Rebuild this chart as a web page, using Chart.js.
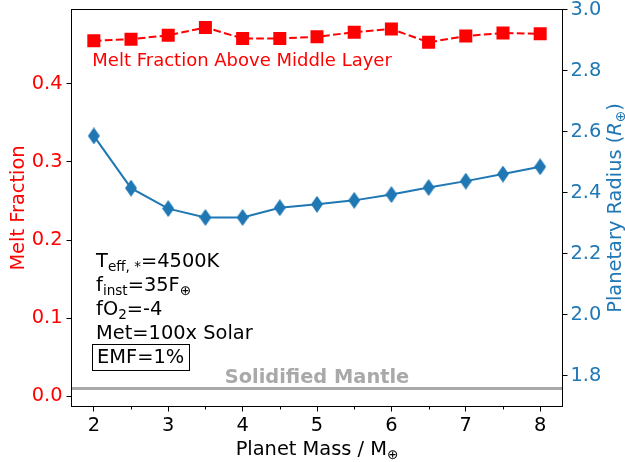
<!DOCTYPE html>
<html>
<head>
<meta charset="utf-8">
<script src="https://cdn.jsdelivr.net/npm/chart.js@4"></script>
<style>
  html, body { margin: 0; padding: 0; background: #fff; }
</style>
</head>
<body>
<canvas id="meltChart" width="625" height="462"></canvas>
<script>
// data
const masses = [2, 2.5, 3, 3.5, 4, 4.5, 5, 5.5, 6, 6.5, 7, 7.5, 8];
const meltFraction = [0.455, 0.457, 0.462, 0.472, 0.458, 0.458, 0.460, 0.466, 0.470, 0.453, 0.461, 0.465, 0.464];
const planetRadius = [2.586, 2.415, 2.348, 2.319, 2.319, 2.351, 2.362, 2.375, 2.394, 2.417, 2.438, 2.461, 2.485];
const massTicks = [2, 3, 4, 5, 6, 7, 8];
const massMinorTicks = [2.5, 3.5, 4.5, 5.5, 6.5, 7.5];
const meltTicks = [0.0, 0.1, 0.2, 0.3, 0.4];
const radiusTicks = [1.8, 2.0, 2.2, 2.4, 2.6, 2.8, 3.0];
const solidifiedLevel = 0.01;
const massRange = [1.7, 8.3];
const meltRange = [-0.013, 0.495];
const radiusRange = [1.7, 3.0];

const RED = '#ff0000';
const BLUE = '#1f77b4';
const GREY = '#a9a9a9';
const FAMILY = '"DejaVu Sans", sans-serif';
const FS = 19.4;

// thin diamond marker like matplotlib 'd'
function thinDiamond(w, h, color) {
    const c = document.createElement('canvas');
    c.width = w; c.height = h;
    const g = c.getContext('2d');
    g.fillStyle = color;
    g.beginPath();
    g.moveTo(w / 2, 0); g.lineTo(w, h / 2); g.lineTo(w / 2, h); g.lineTo(0, h / 2);
    g.closePath();
    g.fill();
    return c;
}

// draw a run of text pieces (for sub-scripts)
function drawRich(ctx, x, y, parts, align) {
    let total = 0;
    parts.forEach(p => {
        ctx.font = (p.italic ? 'italic ' : '') + (p.bold ? 'bold ' : '') + p.size + 'px ' + FAMILY;
        p.w = ctx.measureText(p.t).width;
        total += p.w;
    });
    let cx = align === 'center' ? x - total / 2 : x;
    ctx.textAlign = 'left';
    ctx.textBaseline = 'alphabetic';
    parts.forEach(p => {
        ctx.font = (p.italic ? 'italic ' : '') + (p.bold ? 'bold ' : '') + p.size + 'px ' + FAMILY;
        ctx.fillText(p.t, cx, y + (p.dy || 0));
        cx += p.w;
    });
    return total;
}
const txt = (t) => ({ t: t, size: FS });
const sub = (t) => ({ t: t, size: FS * 0.7, dy: 4 });

function zeroPad(s) {
    s.paddingLeft = 0; s.paddingRight = 0; s.paddingTop = 0; s.paddingBottom = 0;
}

const decorPlugin = {
    id: 'decor',
    beforeDatasetsDraw(chart) {
        const { ctx, chartArea, scales } = chart;
        const y = scales.y.getPixelForValue(solidifiedLevel);
        ctx.save();
        ctx.strokeStyle = GREY;
        ctx.lineWidth = 3;
        ctx.beginPath();
        ctx.moveTo(chartArea.left, y);
        ctx.lineTo(chartArea.right, y);
        ctx.stroke();
        ctx.fillStyle = GREY;
        ctx.font = 'bold ' + FS + 'px ' + FAMILY;
        ctx.textAlign = 'center';
        ctx.textBaseline = 'alphabetic';
        ctx.fillText('Solidified Mantle', scales.x.getPixelForValue(5), y - 6);
        ctx.restore();
    },
    afterDraw(chart) {
        const { ctx, chartArea, scales } = chart;
        const a = chartArea;
        ctx.save();

        // frame
        ctx.strokeStyle = '#000';
        ctx.lineWidth = 1;
        ctx.strokeRect(a.left, a.top, a.right - a.left, a.bottom - a.top);

        // minor x ticks
        ctx.beginPath();
        massMinorTicks.forEach(v => {
            const x = Math.round(scales.x.getPixelForValue(v)) + 0.5;
            ctx.moveTo(x, a.bottom);
            ctx.lineTo(x, a.bottom + 3);
        });
        ctx.stroke();

        // in-plot red label
        ctx.fillStyle = RED;
        ctx.font = '18px ' + FAMILY;
        ctx.textAlign = 'left';
        ctx.textBaseline = 'alphabetic';
        ctx.fillText('Melt Fraction Above Middle Layer', scales.x.getPixelForValue(2) - 1.5, a.top + 56);

        // parameter block
        ctx.fillStyle = '#000';
        const tx = a.left + 0.05 * (a.right - a.left);
        const b0 = a.top + 257;
        const step = 24;
        drawRich(ctx, tx, b0, [txt('T'), sub('eff, '), { t: '*', size: FS * 0.7, dy: 4 }, txt('=4500K')]);
        drawRich(ctx, tx, b0 + step, [txt('f'), sub('inst'), txt('=35F'), sub('\u2295')]);
        drawRich(ctx, tx, b0 + 2 * step, [txt('fO'), sub('2'), txt('=-4')]);
        drawRich(ctx, tx, b0 + 3 * step, [txt('Met=100x Solar')]);
        const w = drawRich(ctx, tx + 1, b0 + 4 * step, [txt('EMF=1%')]);
        ctx.strokeRect(Math.round(tx - 4) + 0.5, Math.round(b0 + 4 * step - 19) + 0.5, Math.round(w + 10), 26);

        // axis titles
        ctx.fillStyle = '#000';
        drawRich(ctx, (a.left + a.right) / 2, 455, [txt('Planet Mass / M'), sub('\u2295')], 'center');

        ctx.save();
        ctx.translate(24, (a.top + a.bottom) / 2);
        ctx.rotate(-Math.PI / 2);
        ctx.fillStyle = RED;
        drawRich(ctx, 0, 0, [txt('Melt Fraction')], 'center');
        ctx.restore();

        ctx.save();
        ctx.translate(621, (a.top + a.bottom) / 2);
        ctx.rotate(-Math.PI / 2);
        ctx.fillStyle = BLUE;
        drawRich(ctx, 0, 0, [txt('Planetary Radius ('), { t: 'R', size: FS, italic: true }, sub('\u2295'), txt(')')], 'center');
        ctx.restore();

        ctx.restore();
    }
};

const tickFont = { family: FAMILY, size: FS };

const ctx = document.getElementById('meltChart').getContext('2d');
const meltChart = new Chart(ctx, {
    type: 'line',
    data: {
        datasets: [{
            label: 'Melt Fraction',
            data: masses.map((m, i) => ({ x: m, y: meltFraction[i] })),
            yAxisID: 'y',
            borderColor: RED,
            borderWidth: 2,
            borderDash: [7.7, 3.3],
            pointStyle: 'rect',
            pointRadius: 9.2,
            pointBackgroundColor: RED,
            pointBorderWidth: 0,
            tension: 0,
            fill: false
        }, {
            label: 'Planetary Radius',
            data: masses.map((m, i) => ({ x: m, y: planetRadius[i] })),
            yAxisID: 'y2',
            borderColor: BLUE,
            borderWidth: 2,
            pointStyle: thinDiamond(12, 17, BLUE),
            pointRadius: 8,
            pointBackgroundColor: BLUE,
            pointBorderWidth: 0,
            tension: 0,
            fill: false
        }]
    },
    options: {
        responsive: false,
        animation: false,
        events: [],
        layout: { padding: { top: 9.5, left: 0, right: 0, bottom: 0 } },
        plugins: {
            legend: { display: false },
            tooltip: { enabled: false }
        },
        scales: {
            x: {
                type: 'linear',
                position: 'bottom',
                min: massRange[0],
                max: massRange[1],
                afterBuildTicks: s => { s.ticks = massTicks.map(v => ({ value: v })); },
                afterFit: s => { s.height = 55.5; zeroPad(s); },
                ticks: { font: tickFont, color: '#000', padding: 3, maxRotation: 0, autoSkip: false, callback: v => String(v) },
                grid: { drawOnChartArea: false, tickLength: 5, color: '#000' },
                border: { display: false }
            },
            y: {
                type: 'linear',
                position: 'left',
                min: meltRange[0],
                max: meltRange[1],
                afterBuildTicks: s => { s.ticks = meltTicks.map(v => ({ value: v })); },
                afterFit: s => { s.width = 71.5; zeroPad(s); },
                ticks: { font: tickFont, color: RED, padding: 4, autoSkip: false, callback: v => v.toFixed(1) },
                grid: { drawOnChartArea: false, tickLength: 5, color: '#000' },
                border: { display: false }
            },
            y2: {
                type: 'linear',
                position: 'right',
                min: radiusRange[0],
                max: radiusRange[1],
                afterBuildTicks: s => { s.ticks = radiusTicks.map(v => ({ value: v })); },
                afterFit: s => { s.width = 62.5; zeroPad(s); },
                ticks: { font: tickFont, color: BLUE, padding: 3, autoSkip: false, callback: v => v.toFixed(1) },
                grid: { drawOnChartArea: false, tickLength: 5, color: '#000' },
                border: { display: false }
            }
        }
    },
    plugins: [decorPlugin]
});
</script>
</body>
</html>
